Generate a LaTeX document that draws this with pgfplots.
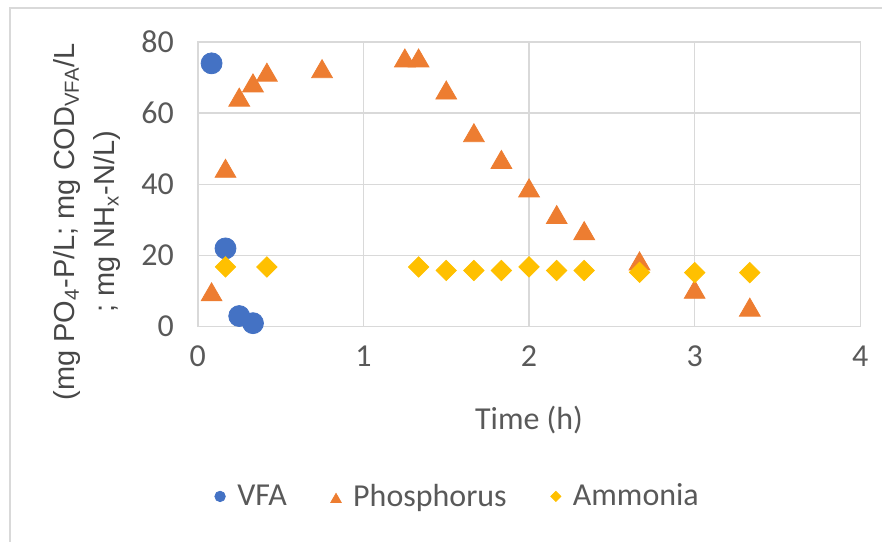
\documentclass[border=0pt]{standalone}
\usepackage{pgfplots}
\pgfplotsset{compat=1.18}
\usepackage{fontspec}
\setmainfont{Carlito}
\newfontfamily\labelfont{Liberation Sans}
\definecolor{vfa}{HTML}{4472C4}
\definecolor{phos}{HTML}{ED7D31}
\definecolor{amm}{HTML}{FFC000}
\definecolor{gridc}{HTML}{D9D9D9}
\definecolor{txt}{HTML}{595959}

\begin{document}
\begin{tikzpicture}[font=\fontsize{16}{19}\selectfont]
\path (-99pt,-107.5pt) rectangle (342.5pt,163.5pt);
\draw[gridc, line width=0.75pt] (-94pt,-107.5pt) -- (-94pt,159.5pt) -- (342.5pt,159.5pt);
\begin{axis}[
    at={(0pt,0pt)}, anchor=south west,
    scale only axis, width=331.5pt, height=142.5pt,
    xmin=0, xmax=4, ymin=0, ymax=80,
    xtick={0,1,2,3,4}, ytick={0,20,40,60,80},
    grid=major,
    major grid style={gridc, line width=0.75pt},
    axis line style={gridc, line width=0.75pt},
    tick style={draw=none},
    ticklabel style={text=txt},
    /pgf/number format/assume math mode=true,
    yticklabel style={xshift=-8.5pt},
    xticklabel style={yshift=-6pt},
    xlabel={Time (h)},
    xlabel style={at={(axis description cs:0.5,-0.326)}, anchor=center, text=txt},
    only marks,
    legend columns=3,
    legend style={at={(axis description cs:0.394,-0.596)}, anchor=center,
        draw=none, fill=none, text=txt,
        /tikz/every odd column/.append style={column sep=4pt},
        /tikz/every even column/.append style={column sep=20pt}},
    legend image code/.code={\draw[mark repeat=2,mark phase=2,#1,/tikz/every mark/.append style={scale=0.5}] plot coordinates {(0cm,0cm) (0.1cm,0cm) (0.2cm,0cm)};},
]
  \addplot[mark=*, mark size=5.25pt, mark options={draw=vfa, fill=vfa}]
    coordinates {(0.083,74)(0.167,22)(0.25,3)(0.333,1)};
    \addlegendentry{VFA}

  \addplot[mark=triangle*, mark size=6pt, mark options={draw=phos, fill=phos, yshift=-1.5pt}]
    coordinates {(0.083,9.8)(0.167,44.5)(0.25,64.5)(0.333,68.5)(0.417,71.5)(0.75,72.5)
    (1.25,75.5)(1.333,75.5)(1.5,66.5)(1.667,54.5)(1.833,47)(2,39)(2.167,31.5)
    (2.333,27)(2.667,18.5)(3,10.5)(3.333,5.5)};
    \addlegendentry{Phosphorus}

  \addplot[mark=square*, mark size=3.6pt, mark options={draw=amm, fill=amm, rotate=45}]
    coordinates {(0.167,16.8)(0.417,16.8)(1.333,16.8)(1.5,15.8)(1.667,15.8)(1.833,15.8)
    (2,16.8)(2.167,15.8)(2.333,15.8)(2.667,15.3)(3,15.2)(3.333,15.2)};
    \addlegendentry{Ammonia}
\end{axis}
\node[rotate=90, align=center, text=txt!80!black, font=\labelfont\fontsize{14.5}{20}\selectfont]
  at (-55.5pt,52.5pt) {(mg PO\textsubscript{4}-P/L; mg COD\textsubscript{VFA}/L\\; mg NH\textsubscript{x}-N/L)};
\end{tikzpicture}
\end{document}
